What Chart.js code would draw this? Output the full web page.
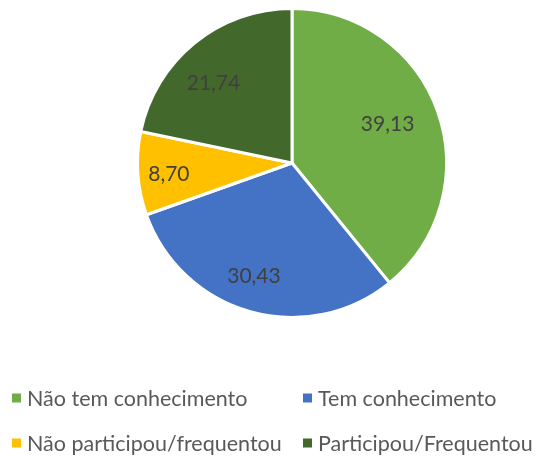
<!DOCTYPE html>
<html>
<head>
<meta charset="utf-8">
<script src="https://cdn.jsdelivr.net/npm/chart.js@4/dist/chart.umd.min.js"></script>
<style>
  html, body { margin: 0; padding: 0; background: #fff; }
  #wrap { width: 545px; height: 456px; position: relative; }
</style>
</head>
<body>
<div id="wrap"><canvas id="pie-chart"></canvas></div>
<script>
// Chart data
const categories = ['Não tem conhecimento', 'Tem conhecimento', 'Não participou/frequentou', 'Participou/Frequentou'];
const percentages = [39.13, 30.43, 8.70, 21.74];
const sliceColors = ['#70AD47', '#4472C4', '#FFC000', '#43682B'];

// Where each value label sits: fraction of radius, and nudge off the bisector (degrees)
const labelRadius = [0.67, 0.77, 0.80, 0.73];
const labelTurn = [-3, 3, -1, -5];

const FONT = 'Lato, "Open Sans", sans-serif';

// Value labels inside slices, pt-BR decimal comma
const sliceLabels = {
    id: 'sliceLabels',
    afterDatasetsDraw(chart) {
        const ctx = chart.ctx;
        const meta = chart.getDatasetMeta(0);
        ctx.save();
        ctx.font = '21px ' + FONT;
        ctx.fillStyle = '#404040';
        ctx.textAlign = 'center';
        ctx.textBaseline = 'middle';
        meta.data.forEach((arc, i) => {
            const p = arc.getProps(['x', 'y', 'startAngle', 'endAngle', 'outerRadius'], true);
            const mid = (p.startAngle + p.endAngle) / 2 + labelTurn[i] * Math.PI / 180;
            const r = p.outerRadius * labelRadius[i];
            const text = percentages[i].toFixed(2).replace('.', ',');
            ctx.fillText(text, p.x + Math.cos(mid) * r, p.y + Math.sin(mid) * r + 1);
        });
        ctx.restore();
    }
};

// Two-column legend under the pie
const gridLegend = {
    id: 'gridLegend',
    afterDraw(chart) {
        const ctx = chart.ctx;
        const cols = [12, 303];
        const rows = [398, 443];
        ctx.save();
        ctx.font = '21.5px ' + FONT;
        ctx.textBaseline = 'middle';
        categories.forEach((name, i) => {
            const x = cols[i % 2];
            const y = rows[Math.floor(i / 2)];
            ctx.fillStyle = sliceColors[i];
            ctx.fillRect(x, y - 4.5, 9, 9);
            ctx.fillStyle = '#595959';
            ctx.fillText(name, x + 15, y + 1);
        });
        ctx.restore();
    }
};

new Chart(document.getElementById('pie-chart'), {
    type: 'pie',
    data: {
        labels: categories,
        datasets: [{
            data: percentages,
            backgroundColor: sliceColors,
            borderColor: '#ffffff',
            borderWidth: 3
        }]
    },
    options: {
        responsive: true,
        maintainAspectRatio: false,
        animation: false,
        layout: {
            padding: { left: 136, right: 97, top: 7, bottom: 137 }
        },
        plugins: {
            legend: { display: false },
            tooltip: { enabled: false }
        }
    },
    plugins: [sliceLabels, gridLegend]
});
</script>
</body>
</html>
